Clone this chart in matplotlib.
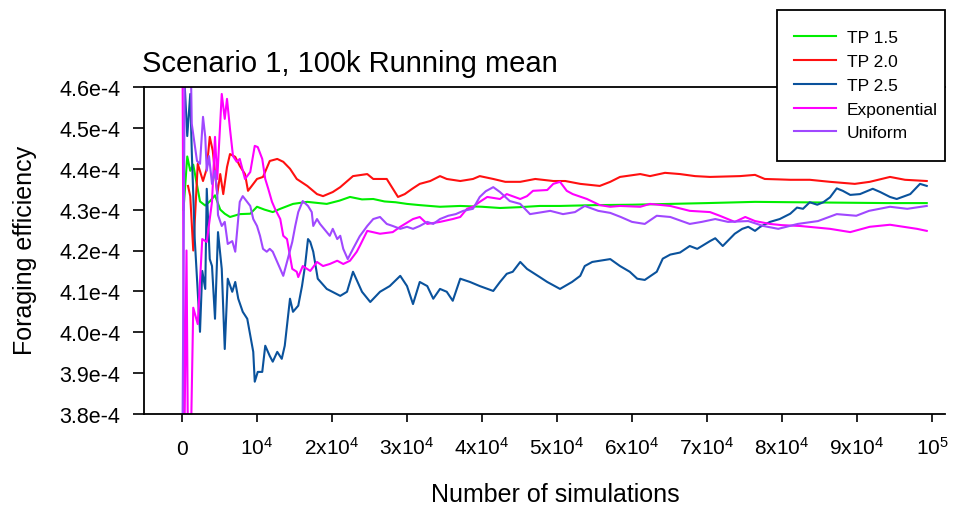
import matplotlib
matplotlib.use("Agg")
import numpy as np
import matplotlib.pyplot as plt
from matplotlib.patches import Rectangle
from matplotlib.ticker import FuncFormatter

plt.rcParams['font.family'] = ['Liberation Sans', 'DejaVu Sans']
plt.rcParams['mathtext.fontset'] = 'custom'
plt.rcParams['mathtext.rm'] = 'Liberation Sans'

# Données (x en milliers de simulations, y en unités de 1e-4)
tp15_k = [0.2, 0.7, 1.1, 1.5, 2.0, 2.4, 3.1, 3.7, 4.4, 5.1, 5.7, 6.4, 7.7, 9.1, 10.0, 11.0, 12.1, 13.1,
          14.8, 16.7, 19.3, 21.0, 22.4, 24.0, 25.5, 27.0, 28.5, 30.0, 31.7, 34.4, 37.1, 40.0, 42.4, 45.0,
          47.7, 50.4, 55.0, 60.0, 65.0, 70.0, 76.4, 82.0, 88.0, 94.0, 99.3]
tp15_v = [4.30, 4.43, 4.395, 4.41, 4.36, 4.32, 4.31, 4.32, 4.335, 4.30, 4.29, 4.282, 4.289, 4.29, 4.307,
          4.30, 4.294, 4.302, 4.314, 4.319, 4.314, 4.322, 4.331, 4.325, 4.326, 4.320, 4.318, 4.314, 4.311,
          4.307, 4.309, 4.307, 4.304, 4.306, 4.309, 4.309, 4.311, 4.312, 4.314, 4.316, 4.319, 4.318, 4.317,
          4.316, 4.316]

tp20_k = [0.8, 1.1, 1.5, 2.1, 2.8, 3.3, 3.7, 4.1, 4.7, 5.1, 5.5, 6.0, 6.4, 7.1, 7.7, 8.4, 8.8, 9.3, 10.0,
          10.8, 11.7, 12.7, 13.5, 14.4, 15.3, 16.7, 18.0, 18.8, 20.1, 21.1, 22.8, 24.7, 25.5, 27.3, 28.8,
          29.7, 30.7, 31.7, 33.1, 34.4, 35.3, 37.1, 38.8, 39.7, 41.5, 43.1, 45.1, 47.1, 49.5, 51.1, 53.1,
          55.7, 57.1, 58.4, 61.1, 62.4, 64.4, 66.4, 68.4, 70.4, 72.4, 74.4, 76.4, 77.7, 79.5, 81.1, 83.7,
          86.4, 89.7, 91.7, 94.4, 96.4, 99.3]
tp20_v = [4.358, 4.333, 4.20, 4.412, 4.37, 4.40, 4.478, 4.444, 4.338, 4.387, 4.338, 4.404, 4.436, 4.429,
          4.407, 4.387, 4.346, 4.358, 4.375, 4.38, 4.419, 4.424, 4.417, 4.40, 4.375, 4.358, 4.338, 4.333,
          4.343, 4.355, 4.382, 4.387, 4.375, 4.375, 4.331, 4.338, 4.351, 4.363, 4.37, 4.382, 4.375, 4.37,
          4.375, 4.382, 4.375, 4.368, 4.368, 4.375, 4.37, 4.37, 4.363, 4.358, 4.368, 4.38, 4.387, 4.382,
          4.39, 4.387, 4.382, 4.38, 4.381, 4.382, 4.385, 4.375, 4.374, 4.373, 4.373, 4.368, 4.363, 4.368,
          4.38, 4.373, 4.37]

tp25_k = [0.1, 0.7, 1.1, 1.3, 1.7, 2.4, 2.7, 3.1, 3.3, 3.7, 4.0, 4.4, 4.8, 5.3, 5.7, 6.1, 6.7, 7.1, 7.5,
          8.1, 8.7, 9.5, 9.7, 10.1, 10.7, 11.1, 11.7, 12.1, 12.7, 13.3, 13.7, 14.1, 14.4, 14.8, 15.5, 16.0,
          16.4, 16.8, 17.1, 17.5, 18.1, 19.3, 21.1, 22.0, 22.8, 24.0, 25.1, 26.4, 27.7, 29.1, 30.0, 30.8,
          31.7, 32.7, 33.5, 34.4, 35.3, 36.1, 37.1, 38.4, 39.7, 41.5, 42.4, 43.3, 44.1, 45.1, 46.0, 47.7,
          48.7, 50.4, 52.0, 53.1, 53.7, 54.7, 57.1, 58.4, 59.7, 60.7, 61.7, 63.3, 64.1, 65.1, 66.4, 67.7,
          68.7, 70.4, 71.1, 72.1, 73.7, 74.7, 75.5, 76.4, 77.1, 78.4, 79.7, 81.1, 82.0, 82.8, 83.7, 84.7,
          85.5, 86.4, 87.3, 88.1, 89.1, 90.4, 92.1, 93.1, 94.4, 95.3, 97.1, 98.4, 99.3]
tp25_v = [4.70, 4.48, 4.583, 4.444, 4.228, 4.001, 4.15, 4.106, 4.351, 4.179, 4.162, 4.033, 4.245, 4.155,
          3.959, 4.131, 4.099, 4.123, 4.082, 4.05, 4.033, 3.952, 3.879, 3.903, 3.903, 3.967, 3.942, 3.928,
          3.952, 3.935, 3.967, 4.033, 4.082, 4.05, 4.065, 4.113, 4.162, 4.228, 4.221, 4.197, 4.131, 4.106,
          4.089, 4.099, 4.148, 4.099, 4.074, 4.099, 4.113, 4.138, 4.113, 4.069, 4.123, 4.113, 4.082, 4.106,
          4.099, 4.077, 4.131, 4.123, 4.113, 4.101, 4.123, 4.143, 4.148, 4.172, 4.155, 4.135, 4.123, 4.106,
          4.123, 4.138, 4.162, 4.172, 4.179, 4.162, 4.148, 4.131, 4.128, 4.148, 4.18, 4.19, 4.195, 4.211,
          4.204, 4.223, 4.23, 4.211, 4.241, 4.253, 4.258, 4.248, 4.258, 4.27, 4.277, 4.29, 4.305, 4.302,
          4.318, 4.312, 4.318, 4.33, 4.352, 4.346, 4.336, 4.338, 4.351, 4.343, 4.331, 4.326, 4.338, 4.363,
          4.358]

exp_k = [0.05, 0.3, 0.6, 0.8, 1.2, 1.5, 2.1, 2.7, 3.3, 3.7, 4.0, 4.4, 4.7, 5.3, 5.7, 6.0, 6.4, 6.8, 7.3,
         7.7, 8.4, 9.1, 9.7, 10.1, 10.7, 11.1, 11.5, 12.0, 12.4, 13.1, 13.5, 14.0, 14.7, 15.3, 15.5, 16.1,
         17.1, 18.0, 18.8, 19.7, 20.7, 21.5, 22.4, 23.3, 23.7, 24.7, 26.4, 28.1, 29.1, 30.8, 31.7, 32.7,
         34.4, 36.1, 37.1, 38.0, 38.8, 39.7, 40.7, 42.4, 43.3, 45.1, 46.0, 46.8, 48.7, 49.5, 50.4, 51.3,
         52.1, 54.0, 54.8, 55.7, 57.1, 58.4, 61.1, 62.4, 65.1, 67.7, 70.4, 71.7, 73.7, 75.1, 76.4, 78.4,
         80.0, 82.4, 86.4, 89.1, 91.7, 94.4, 98.0, 99.3]
exp_v = [4.75, 3.70, 4.20, 3.70, 3.75, 4.06, 4.02, 4.228, 4.221, 4.277, 4.319, 4.478, 4.375, 4.583, 4.522,
         4.571, 4.497, 4.431, 4.417, 4.424, 4.375, 4.392, 4.456, 4.453, 4.424, 4.375, 4.351, 4.319, 4.302,
         4.277, 4.236, 4.228, 4.155, 4.148, 4.135, 4.162, 4.15, 4.172, 4.162, 4.167, 4.175, 4.167, 4.175,
         4.197, 4.211, 4.248, 4.241, 4.245, 4.258, 4.277, 4.282, 4.265, 4.270, 4.277, 4.282, 4.302, 4.307,
         4.319, 4.331, 4.326, 4.338, 4.326, 4.333, 4.346, 4.348, 4.363, 4.368, 4.346, 4.338, 4.326, 4.319,
         4.311, 4.307, 4.309, 4.307, 4.314, 4.309, 4.297, 4.294, 4.285, 4.270, 4.282, 4.272, 4.265, 4.262,
         4.260, 4.253, 4.245, 4.258, 4.263, 4.253, 4.248]

uni_k = [0.05, 0.4, 1.1, 1.3, 2.0, 2.4, 2.8, 3.1, 3.3, 3.6, 4.0, 4.4, 4.7, 4.8, 5.3, 5.7, 6.1, 6.7, 7.1,
         7.7, 8.1, 9.1, 9.5, 10.0, 10.4, 10.8, 11.3, 11.7, 12.1, 13.1, 13.5, 14.1, 14.7, 15.1, 15.5, 16.1,
         16.8, 17.3, 17.5, 18.0, 18.4, 19.3, 19.7, 20.1, 20.7, 21.1, 21.5, 22.1, 22.8, 23.7, 24.7, 25.5,
         26.4, 27.3, 28.1, 29.1, 30.0, 30.8, 31.7, 32.7, 33.5, 34.4, 35.5, 36.5, 37.5, 38.8, 39.7, 40.5,
         41.5, 42.4, 43.7, 45.1, 46.4, 49.1, 50.8, 52.4, 53.7, 55.5, 57.1, 58.5, 60.0, 61.7, 63.3, 65.1,
         67.7, 69.3, 71.1, 72.8, 75.5, 77.5, 79.5, 82.1, 84.8, 87.3, 89.9, 91.6, 94.4, 96.7, 99.3]
uni_v = [3.70, 4.75, 4.75, 4.51, 4.419, 4.412, 4.527, 4.478, 4.395, 4.431, 4.363, 4.395, 4.338, 4.287,
         4.26, 4.27, 4.216, 4.223, 4.197, 4.319, 4.333, 4.309, 4.277, 4.26, 4.236, 4.204, 4.197, 4.204,
         4.197, 4.155, 4.138, 4.179, 4.221, 4.26, 4.294, 4.321, 4.309, 4.294, 4.26, 4.277, 4.265, 4.245,
         4.236, 4.253, 4.228, 4.236, 4.204, 4.179, 4.204, 4.235, 4.26, 4.277, 4.282, 4.265, 4.26, 4.253,
         4.258, 4.253, 4.26, 4.27, 4.265, 4.277, 4.285, 4.289, 4.297, 4.302, 4.331, 4.345, 4.355, 4.343,
         4.321, 4.314, 4.289, 4.297, 4.289, 4.294, 4.309, 4.297, 4.292, 4.282, 4.27, 4.265, 4.285, 4.282,
         4.265, 4.27, 4.277, 4.27, 4.272, 4.26, 4.253, 4.265, 4.272, 4.289, 4.285, 4.297, 4.307, 4.302,
         4.309]

series = [
    ("TP 1.5", tp15_k, tp15_v, "#00ee00"),
    ("TP 2.0", tp20_k, tp20_v, "#ff1010"),
    ("TP 2.5", tp25_k, tp25_v, "#0a529c"),
    ("Exponential", exp_k, exp_v, "#ff00ff"),
    ("Uniform", uni_k, uni_v, "#a048ff"),
]

x_ticks = [0, 1e4, 2e4, 3e4, 4e4, 5e4, 6e4, 7e4, 8e4, 9e4, 1e5]
x_labels = ["0", r"$\mathregular{10^4}$"] + [r"$\mathregular{%dx10^4}$" % i for i in range(2, 10)] \
           + [r"$\mathregular{10^5}$"]
y_ticks = [3.8, 3.9, 4.0, 4.1, 4.2, 4.3, 4.4, 4.5, 4.6]

# Figure
fig = plt.figure(figsize=(9.6, 5.1), dpi=100)
ax = fig.add_axes([144 / 960, 1 - 415 / 510, 801 / 960, 327 / 510])

for name, k, v, c in series:
    ax.plot(np.array(k) * 1000, np.array(v) * 1e-4, color=c, lw=1.5, label=name)

ax.set_xlim(-5067, 101733)
ax.set_ylim(3.8e-4, 4.6e-4)
ax.set_xticks(x_ticks)
ax.set_xticklabels(x_labels)
for lab in ax.get_xticklabels():
    lab.set_verticalalignment('baseline')
ax.set_yticks([t * 1e-4 for t in y_ticks])
ax.yaxis.set_major_formatter(FuncFormatter(lambda v, p: "%.1fe-4" % (v * 1e4)))
ax.tick_params(axis='y', direction='out', length=8, width=1.2, labelsize=15.5, pad=9)
ax.tick_params(axis='x', direction='out', length=6, width=1.2, labelsize=15, pad=23)
ax.spines['right'].set_visible(False)
for s in ['left', 'top', 'bottom']:
    ax.spines[s].set_linewidth(1.3)

fig.text(142 / 960, 1 - 72 / 510, "Scenario 1, 100k Running mean", fontsize=21,
         ha='left', va='baseline')
fig.text(25 / 960, 1 - 250 / 510, "Foraging efficiency", fontsize=18, rotation=90,
         ha='center', va='center')
fig.text(555 / 960, 1 - 495 / 510, "Number of simulations", fontsize=18,
         ha='center', va='center')

# Légende dans un cadre
box = Rectangle((777 / 960, 1 - 162 / 510), 168 / 960, 151 / 510, transform=fig.transFigure,
                facecolor='white', edgecolor='black', lw=1.3, zorder=1)
fig.patches.append(box)
handles, labels = ax.get_legend_handles_labels()
fig.legend(handles, labels, loc='upper left', bbox_to_anchor=(794 / 960, 1 - 31 / 510),
           frameon=False, fontsize=12.5, borderpad=0, borderaxespad=0, handlelength=2.4,
           handletextpad=0.65, labelspacing=0.5)

fig.savefig("out.png", dpi=100)
